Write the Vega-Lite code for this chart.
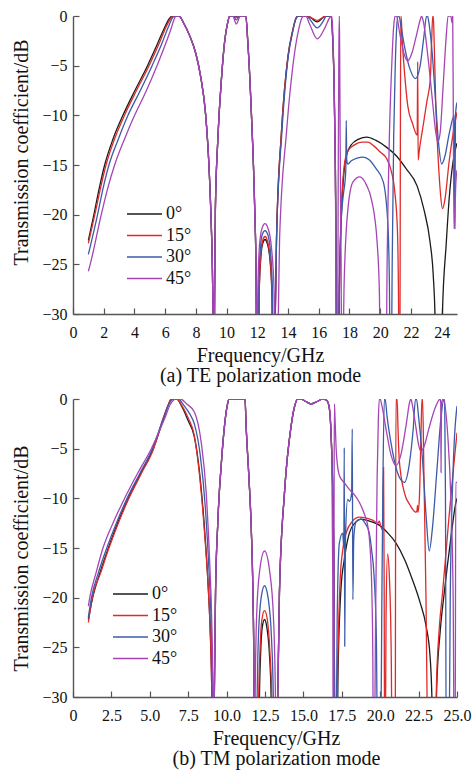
{
"$schema": "https://vega.github.io/schema/vega-lite/v6.json",
"background": "white",
"padding": {"left": 11, "top": 8, "right": 10, "bottom": 5},
"bounds": "flush",
"spacing": 85,
"config": {
  "view": {"stroke": null},
  "font": "Liberation Serif, DejaVu Serif, Times New Roman, serif",
  "axis": {"grid": false, "domainColor": "#555555", "domainWidth": 1.4, "tickColor": "#555555", "tickWidth": 1.2, "tickSize": -6,
    "labelFont": "Liberation Serif, DejaVu Serif, Times New Roman, serif", "labelFontSize": 16, "labelColor": "#111111", "labelFlush": false, "labelOverlap": false,
    "titleFont": "Liberation Serif, DejaVu Serif, Times New Roman, serif", "titleFontSize": 20, "titleFontWeight": "normal", "titleColor": "#111111"},
  "axisX": {"labelPadding": 16, "titlePadding": 5, "titleLineHeight": 20},
  "axisY": {"labelPadding": 12, "titlePadding": 10},
  "legend": {"orient": "none", "title": null, "labelFont": "Liberation Serif, DejaVu Serif, Times New Roman, serif", "labelFontSize": 18, "labelColor": "#111111",
    "symbolType": "M-14,0H0", "symbolSize": 25, "symbolStrokeWidth": 1.3, "labelOffset": -5, "rowPadding": 3.5, "padding": 0}
},
"resolve": {"legend": {"color": "independent"}},
"datasets": {
"te": [
{"a":"0°","f":1,"t":-22.6},{"a":"0°","f":1.36,"t":-20},{"a":"0°","f":1.7,"t":-17.4},{"a":"0°","f":2.06,"t":-15},{"a":"0°","f":2.6,"t":-12.4},{"a":"0°","f":3.25,"t":-10},{"a":"0°","f":4,"t":-7.6},{"a":"0°","f":4.85,"t":-5},{"a":"0°","f":5.5,"t":-2.8},{"a":"0°","f":5.95,"t":-1.2},{"a":"0°","f":6.3,"t":-0.2},{"a":"0°","f":6.45,"t":0},
{"a":"0°","f":6.9,"t":0},{"a":"0°","f":7.2,"t":-0.7},{"a":"0°","f":7.6,"t":-2},{"a":"0°","f":8,"t":-3.8},{"a":"0°","f":8.3,"t":-6},{"a":"0°","f":8.64,"t":-10},{"a":"0°","f":8.85,"t":-15},{"a":"0°","f":8.98,"t":-20},{"a":"0°","f":9.07,"t":-25},{"a":"0°","f":9.12,"t":-30},{"a":"0°","f":9.16,"t":-36},{"a":"0°","f":9.19,"t":-36},{"a":"0°","f":9.22,"t":-28},{"a":"0°","f":9.27,"t":-19.4},{"a":"0°","f":9.42,"t":-12.7},{"a":"0°","f":9.68,"t":-6},{"a":"0°","f":9.87,"t":-2.6},{"a":"0°","f":10.08,"t":-0.6},{"a":"0°","f":10.2,"t":0},
{"a":"0°","f":11.25,"t":0},{"a":"0°","f":11.38,"t":-2.6},{"a":"0°","f":11.6,"t":-9.3},{"a":"0°","f":11.83,"t":-19.4},{"a":"0°","f":11.92,"t":-26},{"a":"0°","f":11.96,"t":-36},
{"a":"0°","f":12.08,"t":-36},{"a":"0°","f":12.12,"t":-28},{"a":"0°","f":12.22,"t":-24.5},{"a":"0°","f":12.35,"t":-22.9},{"a":"0°","f":12.5,"t":-22.5},{"a":"0°","f":12.65,"t":-22.9},{"a":"0°","f":12.82,"t":-24.5},{"a":"0°","f":12.95,"t":-28},{"a":"0°","f":13,"t":-36},{"a":"0°","f":13.12,"t":-36},{"a":"0°","f":13.17,"t":-30},{"a":"0°","f":13.25,"t":-22.4},{"a":"0°","f":13.57,"t":-11.7},{"a":"0°","f":14,"t":-4},{"a":"0°","f":14.3,"t":-1.5},{"a":"0°","f":14.5,"t":-0.3},{"a":"0°","f":14.65,"t":0},{"a":"0°","f":15.25,"t":0},{"a":"0°","f":15.5,"t":-0.2},{"a":"0°","f":15.9,"t":-0.6},{"a":"0°","f":16.25,"t":-0.2},{"a":"0°","f":16.45,"t":0},{"a":"0°","f":16.8,"t":0},{"a":"0°","f":16.9,"t":-2},{"a":"0°","f":17,"t":-7},{"a":"0°","f":17.08,"t":-15},{"a":"0°","f":17.13,"t":-24},{"a":"0°","f":17.17,"t":-36},{"a":"0°","f":17.28,"t":-36},{"a":"0°","f":17.34,"t":-28},{"a":"0°","f":17.45,"t":-21},{"a":"0°","f":17.6,"t":-16.5},{"a":"0°","f":17.8,"t":-14.1},{"a":"0°","f":18.1,"t":-13},{"a":"0°","f":18.6,"t":-12.4},{"a":"0°","f":19.13,"t":-12.2},{"a":"0°","f":19.7,"t":-12.5},{"a":"0°","f":20.4,"t":-13.2},{"a":"0°","f":21.06,"t":-14.1},{"a":"0°","f":21.7,"t":-15.4},{"a":"0°","f":22.4,"t":-17.1},{"a":"0°","f":22.85,"t":-19.5},{"a":"0°","f":23.25,"t":-22.8},{"a":"0°","f":23.45,"t":-26},{"a":"0°","f":23.58,"t":-31},{"a":"0°","f":23.62,"t":-36},{"a":"0°","f":23.98,"t":-36},{"a":"0°","f":24.05,"t":-30},{"a":"0°","f":24.3,"t":-22.9},{"a":"0°","f":24.5,"t":-18.2},{"a":"0°","f":24.74,"t":-14.7},{"a":"0°","f":25,"t":-12.8},

{"a":"15°","f":1,"t":-22.9},{"a":"15°","f":1.42,"t":-20},{"a":"15°","f":1.78,"t":-17.4},{"a":"15°","f":2.15,"t":-15},{"a":"15°","f":2.7,"t":-12.4},{"a":"15°","f":3.35,"t":-10},{"a":"15°","f":4.1,"t":-7.6},{"a":"15°","f":4.95,"t":-5},{"a":"15°","f":5.6,"t":-2.8},{"a":"15°","f":6.03,"t":-1.2},{"a":"15°","f":6.38,"t":-0.2},{"a":"15°","f":6.52,"t":0},
{"a":"15°","f":6.9,"t":0},{"a":"15°","f":7.2,"t":-0.7},{"a":"15°","f":7.6,"t":-2},{"a":"15°","f":8,"t":-3.8},{"a":"15°","f":8.3,"t":-6},{"a":"15°","f":8.64,"t":-10},{"a":"15°","f":8.85,"t":-15},{"a":"15°","f":8.98,"t":-20},{"a":"15°","f":9.07,"t":-25},{"a":"15°","f":9.12,"t":-30},{"a":"15°","f":9.16,"t":-36},{"a":"15°","f":9.19,"t":-36},{"a":"15°","f":9.22,"t":-28},{"a":"15°","f":9.27,"t":-19.4},{"a":"15°","f":9.42,"t":-12.7},{"a":"15°","f":9.68,"t":-6},{"a":"15°","f":9.87,"t":-2.6},{"a":"15°","f":10.08,"t":-0.6},{"a":"15°","f":10.2,"t":0},
{"a":"15°","f":10.5,"t":0},{"a":"15°","f":10.65,"t":-0.15},{"a":"15°","f":10.8,"t":0},
{"a":"15°","f":11.25,"t":0},{"a":"15°","f":11.38,"t":-2.6},{"a":"15°","f":11.6,"t":-9.3},{"a":"15°","f":11.83,"t":-19.4},{"a":"15°","f":11.92,"t":-26},{"a":"15°","f":11.96,"t":-36},
{"a":"15°","f":12.08,"t":-36},{"a":"15°","f":12.12,"t":-28},{"a":"15°","f":12.22,"t":-24.2},{"a":"15°","f":12.35,"t":-22.6},{"a":"15°","f":12.5,"t":-22.2},{"a":"15°","f":12.65,"t":-22.6},{"a":"15°","f":12.82,"t":-24.2},{"a":"15°","f":12.96,"t":-28},{"a":"15°","f":13.01,"t":-36},{"a":"15°","f":13.12,"t":-36},{"a":"15°","f":13.17,"t":-30},{"a":"15°","f":13.25,"t":-22.4},{"a":"15°","f":13.57,"t":-11.7},{"a":"15°","f":14,"t":-4},{"a":"15°","f":14.3,"t":-1.5},{"a":"15°","f":14.5,"t":-0.3},{"a":"15°","f":14.65,"t":0},{"a":"15°","f":15.25,"t":0},{"a":"15°","f":15.5,"t":-0.15},{"a":"15°","f":15.9,"t":-0.45},{"a":"15°","f":16.25,"t":-0.15},{"a":"15°","f":16.45,"t":0},{"a":"15°","f":16.8,"t":0},{"a":"15°","f":16.9,"t":-2},{"a":"15°","f":17,"t":-7},{"a":"15°","f":17.08,"t":-15},{"a":"15°","f":17.13,"t":-24},{"a":"15°","f":17.17,"t":-36},{"a":"15°","f":17.28,"t":-36},{"a":"15°","f":17.34,"t":-28},{"a":"15°","f":17.45,"t":-20},{"a":"15°","f":17.55,"t":-17},{"a":"15°","f":17.7,"t":-14.6},{"a":"15°","f":17.9,"t":-13.6},{"a":"15°","f":18.3,"t":-13},{"a":"15°","f":18.8,"t":-12.7},{"a":"15°","f":19.2,"t":-12.7},{"a":"15°","f":19.6,"t":-13.1},{"a":"15°","f":20,"t":-13.7},{"a":"15°","f":20.4,"t":-14.3},{"a":"15°","f":20.7,"t":-15.5},{"a":"15°","f":20.95,"t":-17.7},{"a":"15°","f":21.12,"t":-21.5},{"a":"15°","f":21.19,"t":-28},{"a":"15°","f":21.22,"t":-36},{"a":"15°","f":21.28,"t":-36},{"a":"15°","f":21.31,"t":-15},{"a":"15°","f":21.34,"t":0},{"a":"15°","f":21.36,"t":0},{"a":"15°","f":21.42,"t":-2},{"a":"15°","f":21.6,"t":-6},{"a":"15°","f":21.8,"t":-9.1},{"a":"15°","f":22.1,"t":-10.8},{"a":"15°","f":22.41,"t":-12},{"a":"15°","f":22.44,"t":-4.6},{"a":"15°","f":22.47,"t":-14.5},{"a":"15°","f":22.55,"t":-13.5},{"a":"15°","f":22.8,"t":-11},{"a":"15°","f":23.05,"t":-8.5},{"a":"15°","f":23.26,"t":-6.4},{"a":"15°","f":23.35,"t":-2.5},{"a":"15°","f":23.42,"t":0},{"a":"15°","f":23.46,"t":0},{"a":"15°","f":23.52,"t":-3},{"a":"15°","f":23.62,"t":-9},{"a":"15°","f":23.78,"t":-14.5},{"a":"15°","f":23.92,"t":-17.8},{"a":"15°","f":24.05,"t":-19.4},{"a":"15°","f":24.2,"t":-18.6},{"a":"15°","f":24.5,"t":-14.5},{"a":"15°","f":24.75,"t":-11.8},{"a":"15°","f":25,"t":-9.7},

{"a":"30°","f":1,"t":-24},{"a":"30°","f":1.6,"t":-20},{"a":"30°","f":1.95,"t":-17.4},{"a":"30°","f":2.34,"t":-15},{"a":"30°","f":2.95,"t":-12.4},{"a":"30°","f":3.58,"t":-10},{"a":"30°","f":4.35,"t":-7.6},{"a":"30°","f":5.15,"t":-5},{"a":"30°","f":5.78,"t":-2.8},{"a":"30°","f":6.18,"t":-1.2},{"a":"30°","f":6.48,"t":-0.2},{"a":"30°","f":6.6,"t":0},
{"a":"30°","f":6.9,"t":0},{"a":"30°","f":7.2,"t":-0.7},{"a":"30°","f":7.6,"t":-2},{"a":"30°","f":8,"t":-3.8},{"a":"30°","f":8.3,"t":-6},{"a":"30°","f":8.64,"t":-10},{"a":"30°","f":8.85,"t":-15},{"a":"30°","f":8.98,"t":-20},{"a":"30°","f":9.07,"t":-25},{"a":"30°","f":9.12,"t":-30},{"a":"30°","f":9.16,"t":-36},{"a":"30°","f":9.19,"t":-36},{"a":"30°","f":9.22,"t":-28},{"a":"30°","f":9.27,"t":-19.4},{"a":"30°","f":9.42,"t":-12.7},{"a":"30°","f":9.68,"t":-6},{"a":"30°","f":9.87,"t":-2.6},{"a":"30°","f":10.08,"t":-0.6},{"a":"30°","f":10.2,"t":0},
{"a":"30°","f":10.45,"t":0},{"a":"30°","f":10.63,"t":-0.4},{"a":"30°","f":10.85,"t":0},
{"a":"30°","f":11.25,"t":0},{"a":"30°","f":11.38,"t":-2.6},{"a":"30°","f":11.6,"t":-9.3},{"a":"30°","f":11.83,"t":-19.4},{"a":"30°","f":11.92,"t":-26},{"a":"30°","f":11.96,"t":-36},
{"a":"30°","f":12.03,"t":-36},{"a":"30°","f":12.08,"t":-28},{"a":"30°","f":12.18,"t":-23.8},{"a":"30°","f":12.32,"t":-22},{"a":"30°","f":12.5,"t":-21.6},{"a":"30°","f":12.68,"t":-22},{"a":"30°","f":12.86,"t":-23.8},{"a":"30°","f":12.99,"t":-28},{"a":"30°","f":13.05,"t":-36},{"a":"30°","f":13.12,"t":-36},{"a":"30°","f":13.17,"t":-30},{"a":"30°","f":13.25,"t":-22.4},{"a":"30°","f":13.6,"t":-11.7},{"a":"30°","f":14.02,"t":-4},{"a":"30°","f":14.3,"t":-1.6},{"a":"30°","f":14.5,"t":-0.3},{"a":"30°","f":14.65,"t":0},{"a":"30°","f":15.2,"t":0},{"a":"30°","f":15.5,"t":-0.5},{"a":"30°","f":15.9,"t":-1.2},{"a":"30°","f":16.3,"t":-0.5},{"a":"30°","f":16.5,"t":0},{"a":"30°","f":16.8,"t":0},{"a":"30°","f":16.9,"t":-2},{"a":"30°","f":17,"t":-7},{"a":"30°","f":17.08,"t":-15},{"a":"30°","f":17.13,"t":-24},{"a":"30°","f":17.17,"t":-36},{"a":"30°","f":17.25,"t":-36},{"a":"30°","f":17.32,"t":-28},{"a":"30°","f":17.45,"t":-21},{"a":"30°","f":17.6,"t":-18},{"a":"30°","f":17.7,"t":-16.8},{"a":"30°","f":17.76,"t":-15.5},{"a":"30°","f":17.79,"t":-10.5},{"a":"30°","f":17.82,"t":-14.5},{"a":"30°","f":17.9,"t":-14.9},{"a":"30°","f":18.1,"t":-14.6},{"a":"30°","f":18.5,"t":-14.3},{"a":"30°","f":18.9,"t":-14.2},{"a":"30°","f":19.3,"t":-14.5},{"a":"30°","f":19.7,"t":-15.3},{"a":"30°","f":20.2,"t":-16.7},{"a":"30°","f":20.5,"t":-21},{"a":"30°","f":20.6,"t":-27},{"a":"30°","f":20.64,"t":-36},{"a":"30°","f":20.72,"t":-36},{"a":"30°","f":20.78,"t":-25},{"a":"30°","f":20.88,"t":-12},{"a":"30°","f":20.98,"t":-5},{"a":"30°","f":21.08,"t":-1},{"a":"30°","f":21.15,"t":0},{"a":"30°","f":21.22,"t":0},{"a":"30°","f":21.35,"t":-1},{"a":"30°","f":21.6,"t":-3.2},{"a":"30°","f":21.95,"t":-5.4},{"a":"30°","f":22.3,"t":-6.3},{"a":"30°","f":22.6,"t":-5},{"a":"30°","f":22.85,"t":-2},{"a":"30°","f":23.02,"t":0},{"a":"30°","f":23.08,"t":0},{"a":"30°","f":23.2,"t":-1},{"a":"30°","f":23.4,"t":-4},{"a":"30°","f":23.6,"t":-8.5},{"a":"30°","f":23.8,"t":-12.8},{"a":"30°","f":24,"t":-14.9},{"a":"30°","f":24.2,"t":-14.2},{"a":"30°","f":24.5,"t":-11.8},{"a":"30°","f":24.82,"t":-10},{"a":"30°","f":24.86,"t":-21.4},{"a":"30°","f":24.9,"t":-10},{"a":"30°","f":25,"t":-8.7},

{"a":"45°","f":1,"t":-25.7},{"a":"45°","f":1.12,"t":-25},{"a":"45°","f":1.84,"t":-20},{"a":"45°","f":2.25,"t":-17.4},{"a":"45°","f":2.71,"t":-15},{"a":"45°","f":3.35,"t":-12.4},{"a":"45°","f":4.01,"t":-10},{"a":"45°","f":4.75,"t":-7.6},{"a":"45°","f":5.47,"t":-5},{"a":"45°","f":6.03,"t":-2.8},{"a":"45°","f":6.4,"t":-1.2},{"a":"45°","f":6.62,"t":-0.2},{"a":"45°","f":6.72,"t":0},
{"a":"45°","f":6.9,"t":0},{"a":"45°","f":7.2,"t":-0.7},{"a":"45°","f":7.6,"t":-2},{"a":"45°","f":8,"t":-3.8},{"a":"45°","f":8.3,"t":-6},{"a":"45°","f":8.64,"t":-10},{"a":"45°","f":8.85,"t":-15},{"a":"45°","f":8.98,"t":-20},{"a":"45°","f":9.07,"t":-25},{"a":"45°","f":9.12,"t":-30},{"a":"45°","f":9.16,"t":-36},{"a":"45°","f":9.19,"t":-36},{"a":"45°","f":9.22,"t":-28},{"a":"45°","f":9.27,"t":-19.4},{"a":"45°","f":9.42,"t":-12.7},{"a":"45°","f":9.68,"t":-6},{"a":"45°","f":9.87,"t":-2.6},{"a":"45°","f":10.08,"t":-0.6},{"a":"45°","f":10.2,"t":0},
{"a":"45°","f":10.4,"t":0},{"a":"45°","f":10.63,"t":-0.8},{"a":"45°","f":10.9,"t":0},
{"a":"45°","f":11.25,"t":0},{"a":"45°","f":11.38,"t":-2.6},{"a":"45°","f":11.6,"t":-9.3},{"a":"45°","f":11.83,"t":-19.4},{"a":"45°","f":11.92,"t":-26},{"a":"45°","f":11.96,"t":-36},
{"a":"45°","f":11.98,"t":-36},{"a":"45°","f":12.03,"t":-28},{"a":"45°","f":12.13,"t":-23.3},{"a":"45°","f":12.3,"t":-21.4},{"a":"45°","f":12.5,"t":-20.9},{"a":"45°","f":12.7,"t":-21.4},{"a":"45°","f":12.92,"t":-23.3},{"a":"45°","f":13.1,"t":-28},{"a":"45°","f":13.2,"t":-36},{"a":"45°","f":13.3,"t":-36},{"a":"45°","f":13.37,"t":-30},{"a":"45°","f":13.45,"t":-22.4},{"a":"45°","f":13.9,"t":-11.7},{"a":"45°","f":14.4,"t":-4},{"a":"45°","f":14.7,"t":-1.3},{"a":"45°","f":14.9,"t":-0.2},{"a":"45°","f":15,"t":0},{"a":"45°","f":15.15,"t":0},{"a":"45°","f":15.4,"t":-0.8},{"a":"45°","f":15.9,"t":-2.3},{"a":"45°","f":16.4,"t":-1.2},{"a":"45°","f":16.7,"t":-0.2},{"a":"45°","f":16.85,"t":0},{"a":"45°","f":16.92,"t":-2},{"a":"45°","f":17.02,"t":-9},{"a":"45°","f":17.1,"t":-20},{"a":"45°","f":17.15,"t":-36},{"a":"45°","f":17.22,"t":-36},{"a":"45°","f":17.27,"t":-15},{"a":"45°","f":17.31,"t":-3},{"a":"45°","f":17.34,"t":0},{"a":"45°","f":17.36,"t":-3},{"a":"45°","f":17.39,"t":-11.7},{"a":"45°","f":17.45,"t":-24},{"a":"45°","f":17.5,"t":-36},{"a":"45°","f":17.56,"t":-36},{"a":"45°","f":17.65,"t":-27},{"a":"45°","f":17.9,"t":-19.4},{"a":"45°","f":18.23,"t":-16.7},{"a":"45°","f":18.67,"t":-16.2},{"a":"45°","f":19.1,"t":-17},{"a":"45°","f":19.45,"t":-18.6},{"a":"45°","f":19.8,"t":-22.8},{"a":"45°","f":19.95,"t":-28},{"a":"45°","f":20,"t":-36},{"a":"45°","f":20.38,"t":-36},{"a":"45°","f":20.45,"t":-25},{"a":"45°","f":20.6,"t":-12},{"a":"45°","f":20.75,"t":-5},{"a":"45°","f":20.88,"t":-1},{"a":"45°","f":20.97,"t":0},{"a":"45°","f":21.05,"t":0},{"a":"45°","f":21.3,"t":-2},{"a":"45°","f":21.55,"t":-3.8},{"a":"45°","f":21.8,"t":-4.5},{"a":"45°","f":22.05,"t":-3.8},{"a":"45°","f":22.35,"t":-2},{"a":"45°","f":22.6,"t":-0.4},{"a":"45°","f":22.7,"t":0},{"a":"45°","f":22.8,"t":-0.5},{"a":"45°","f":23.1,"t":-4},{"a":"45°","f":23.4,"t":-8.5},{"a":"45°","f":23.6,"t":-11.5},{"a":"45°","f":23.75,"t":-12.7},{"a":"45°","f":23.9,"t":-11.8},{"a":"45°","f":24.1,"t":-7},{"a":"45°","f":24.3,"t":-2},{"a":"45°","f":24.42,"t":0},{"a":"45°","f":24.6,"t":0},{"a":"45°","f":24.68,"t":-0.7},{"a":"45°","f":24.72,"t":0},{"a":"45°","f":24.76,"t":-10},{"a":"45°","f":24.8,"t":-21.4},{"a":"45°","f":24.84,"t":-21},{"a":"45°","f":24.92,"t":-17},{"a":"45°","f":25,"t":-15.5}
],
"tm": [
{"a":"0°","f":1,"t":-22.2},{"a":"0°","f":1.28,"t":-20},{"a":"0°","f":1.75,"t":-17.5},{"a":"0°","f":2.3,"t":-15},{"a":"0°","f":2.9,"t":-12.5},{"a":"0°","f":3.6,"t":-10},{"a":"0°","f":4.4,"t":-7.5},{"a":"0°","f":5.22,"t":-5},{"a":"0°","f":5.85,"t":-2.2},{"a":"0°","f":6.2,"t":-0.6},{"a":"0°","f":6.4,"t":0},{"a":"0°","f":6.75,"t":0},{"a":"0°","f":7.1,"t":-0.8},{"a":"0°","f":7.5,"t":-2.2},{"a":"0°","f":7.9,"t":-3.8},{"a":"0°","f":8.24,"t":-7.4},{"a":"0°","f":8.56,"t":-13},{"a":"0°","f":8.82,"t":-19.4},{"a":"0°","f":8.95,"t":-24},{"a":"0°","f":9.04,"t":-30},{"a":"0°","f":9.08,"t":-36},{"a":"0°","f":9.16,"t":-36},
{"a":"0°","f":9.2,"t":-30},{"a":"0°","f":9.28,"t":-19.4},{"a":"0°","f":9.42,"t":-12.7},{"a":"0°","f":9.68,"t":-6},{"a":"0°","f":9.87,"t":-2.6},{"a":"0°","f":10.05,"t":-0.6},{"a":"0°","f":10.15,"t":0},{"a":"0°","f":11.2,"t":0},{"a":"0°","f":11.27,"t":-2.7},{"a":"0°","f":11.45,"t":-7.8},{"a":"0°","f":11.6,"t":-12.8},{"a":"0°","f":11.72,"t":-20},{"a":"0°","f":11.77,"t":-26},{"a":"0°","f":11.8,"t":-36},
{"a":"0°","f":12.1,"t":-36},{"a":"0°","f":12.14,"t":-30},{"a":"0°","f":12.22,"t":-25.5},{"a":"0°","f":12.32,"t":-23},{"a":"0°","f":12.47,"t":-22.2},{"a":"0°","f":12.62,"t":-23},{"a":"0°","f":12.78,"t":-25.5},{"a":"0°","f":12.9,"t":-30},{"a":"0°","f":12.94,"t":-36},
{"a":"0°","f":13.28,"t":-36},{"a":"0°","f":13.33,"t":-30},{"a":"0°","f":13.44,"t":-19.5},{"a":"0°","f":13.77,"t":-9.4},{"a":"0°","f":14.2,"t":-2.7},{"a":"0°","f":14.45,"t":-0.6},{"a":"0°","f":14.62,"t":0},{"a":"0°","f":14.85,"t":0},{"a":"0°","f":15.15,"t":-0.25},{"a":"0°","f":15.5,"t":-0.5},{"a":"0°","f":15.9,"t":-0.25},{"a":"0°","f":16.25,"t":0},{"a":"0°","f":16.5,"t":-0.1},
{"a":"0°","f":16.65,"t":-0.6},{"a":"0°","f":16.8,"t":-3.5},{"a":"0°","f":16.92,"t":-10},{"a":"0°","f":17,"t":-20},{"a":"0°","f":17.05,"t":-36},{"a":"0°","f":17.2,"t":-36},{"a":"0°","f":17.25,"t":-28},{"a":"0°","f":17.45,"t":-19},{"a":"0°","f":17.67,"t":-16.1},{"a":"0°","f":17.99,"t":-13.5},{"a":"0°","f":18.4,"t":-12.4},{"a":"0°","f":18.75,"t":-12.1},{"a":"0°","f":19.3,"t":-12.3},{"a":"0°","f":19.94,"t":-12.7},{"a":"0°","f":20.5,"t":-13.5},{"a":"0°","f":21.03,"t":-14.5},{"a":"0°","f":21.6,"t":-16.2},{"a":"0°","f":22.1,"t":-18.2},{"a":"0°","f":22.6,"t":-20.5},{"a":"0°","f":22.98,"t":-22.8},{"a":"0°","f":23.25,"t":-26},{"a":"0°","f":23.38,"t":-31},{"a":"0°","f":23.42,"t":-36},{"a":"0°","f":23.58,"t":-36},{"a":"0°","f":23.68,"t":-29},{"a":"0°","f":23.9,"t":-23.5},{"a":"0°","f":24.17,"t":-19.5},{"a":"0°","f":24.6,"t":-14},{"a":"0°","f":24.93,"t":-10.4},{"a":"0°","f":25,"t":-10},

{"a":"15°","f":1,"t":-22.5},{"a":"15°","f":1.26,"t":-20},{"a":"15°","f":1.8,"t":-17.5},{"a":"15°","f":2.34,"t":-15},{"a":"15°","f":2.95,"t":-12.5},{"a":"15°","f":3.64,"t":-10},{"a":"15°","f":4.45,"t":-7.5},{"a":"15°","f":5.25,"t":-5},{"a":"15°","f":5.85,"t":-2},{"a":"15°","f":6.2,"t":-0.6},{"a":"15°","f":6.4,"t":0},{"a":"15°","f":6.75,"t":0},{"a":"15°","f":7.1,"t":-0.7},{"a":"15°","f":7.5,"t":-1.9},{"a":"15°","f":7.9,"t":-3.7},{"a":"15°","f":8.24,"t":-7.7},{"a":"15°","f":8.56,"t":-13.4},{"a":"15°","f":8.82,"t":-19.4},{"a":"15°","f":8.95,"t":-24},{"a":"15°","f":9.04,"t":-30},{"a":"15°","f":9.08,"t":-36},{"a":"15°","f":9.16,"t":-36},
{"a":"15°","f":9.2,"t":-30},{"a":"15°","f":9.28,"t":-19.4},{"a":"15°","f":9.42,"t":-12.7},{"a":"15°","f":9.68,"t":-6},{"a":"15°","f":9.87,"t":-2.6},{"a":"15°","f":10.05,"t":-0.6},{"a":"15°","f":10.15,"t":0},{"a":"15°","f":11.2,"t":0},{"a":"15°","f":11.27,"t":-2.7},{"a":"15°","f":11.45,"t":-7.8},{"a":"15°","f":11.6,"t":-12.8},{"a":"15°","f":11.72,"t":-20},{"a":"15°","f":11.77,"t":-26},{"a":"15°","f":11.8,"t":-36},
{"a":"15°","f":12.05,"t":-36},{"a":"15°","f":12.09,"t":-30},{"a":"15°","f":12.17,"t":-25.5},{"a":"15°","f":12.3,"t":-22.2},{"a":"15°","f":12.47,"t":-21.3},{"a":"15°","f":12.65,"t":-22.2},{"a":"15°","f":12.82,"t":-25.5},{"a":"15°","f":12.94,"t":-30},{"a":"15°","f":12.98,"t":-36},
{"a":"15°","f":13.28,"t":-36},{"a":"15°","f":13.33,"t":-30},{"a":"15°","f":13.44,"t":-19.5},{"a":"15°","f":13.77,"t":-9.4},{"a":"15°","f":14.2,"t":-2.7},{"a":"15°","f":14.45,"t":-0.6},{"a":"15°","f":14.62,"t":0},{"a":"15°","f":14.85,"t":0},{"a":"15°","f":15.15,"t":-0.25},{"a":"15°","f":15.5,"t":-0.5},{"a":"15°","f":15.9,"t":-0.25},{"a":"15°","f":16.25,"t":0},{"a":"15°","f":16.5,"t":-0.1},
{"a":"15°","f":16.65,"t":-0.6},{"a":"15°","f":16.8,"t":-3.5},{"a":"15°","f":16.92,"t":-10},{"a":"15°","f":17,"t":-20},{"a":"15°","f":17.05,"t":-36},{"a":"15°","f":17.15,"t":-36},{"a":"15°","f":17.22,"t":-28},{"a":"15°","f":17.4,"t":-18},{"a":"15°","f":17.55,"t":-15.3},{"a":"15°","f":17.78,"t":-13.5},{"a":"15°","f":18.2,"t":-12.3},{"a":"15°","f":18.64,"t":-11.9},{"a":"15°","f":19.1,"t":-12},{"a":"15°","f":19.5,"t":-12.2},{"a":"15°","f":19.85,"t":-12.5},{"a":"15°","f":19.94,"t":-12.3},{"a":"15°","f":20.05,"t":-12.9},{"a":"15°","f":20.16,"t":-13.2},{"a":"15°","f":20.22,"t":-6.9},{"a":"15°","f":20.26,"t":-20},{"a":"15°","f":20.29,"t":-36},{"a":"15°","f":20.33,"t":-36},{"a":"15°","f":20.38,"t":-22},{"a":"15°","f":20.48,"t":-15.6},{"a":"15°","f":20.6,"t":-18},{"a":"15°","f":20.72,"t":-26},{"a":"15°","f":20.78,"t":-36},{"a":"15°","f":20.98,"t":-36},{"a":"15°","f":21,"t":-15},{"a":"15°","f":21.03,"t":0},{"a":"15°","f":21.1,"t":0},{"a":"15°","f":21.16,"t":-3},{"a":"15°","f":21.24,"t":-6.1},{"a":"15°","f":21.57,"t":-9.4},{"a":"15°","f":21.95,"t":-10.7},{"a":"15°","f":22.33,"t":-11.4},{"a":"15°","f":22.4,"t":-11.2},{"a":"15°","f":22.43,"t":-10.7},{"a":"15°","f":22.46,"t":-11.4},{"a":"15°","f":22.55,"t":-10},{"a":"15°","f":22.65,"t":-4},{"a":"15°","f":22.72,"t":0},{"a":"15°","f":22.76,"t":0},{"a":"15°","f":22.85,"t":-8},{"a":"15°","f":22.98,"t":-20},{"a":"15°","f":23.05,"t":-30},{"a":"15°","f":23.08,"t":-36},{"a":"15°","f":23.58,"t":-36},{"a":"15°","f":23.66,"t":-29},{"a":"15°","f":23.85,"t":-23},{"a":"15°","f":24.06,"t":-19.5},{"a":"15°","f":24.5,"t":-11.5},{"a":"15°","f":24.8,"t":-6.5},{"a":"15°","f":25,"t":-3.4},

{"a":"30°","f":1,"t":-22},{"a":"30°","f":1.2,"t":-20},{"a":"30°","f":1.65,"t":-17.5},{"a":"30°","f":2.2,"t":-15},{"a":"30°","f":2.82,"t":-12.5},{"a":"30°","f":3.52,"t":-10},{"a":"30°","f":4.35,"t":-7.5},{"a":"30°","f":5.17,"t":-5},{"a":"30°","f":5.85,"t":-2.1},{"a":"30°","f":6.25,"t":-0.5},{"a":"30°","f":6.52,"t":0},{"a":"30°","f":6.85,"t":0},{"a":"30°","f":7.2,"t":-0.6},{"a":"30°","f":7.6,"t":-1.5},{"a":"30°","f":7.9,"t":-2.5},{"a":"30°","f":8.28,"t":-5.6},{"a":"30°","f":8.62,"t":-11},{"a":"30°","f":8.86,"t":-17.5},{"a":"30°","f":9,"t":-23},{"a":"30°","f":9.08,"t":-30},{"a":"30°","f":9.12,"t":-36},{"a":"30°","f":9.17,"t":-36},
{"a":"30°","f":9.2,"t":-30},{"a":"30°","f":9.28,"t":-19.4},{"a":"30°","f":9.42,"t":-12.7},{"a":"30°","f":9.68,"t":-6},{"a":"30°","f":9.87,"t":-2.6},{"a":"30°","f":10.05,"t":-0.6},{"a":"30°","f":10.15,"t":0},{"a":"30°","f":11.2,"t":0},{"a":"30°","f":11.27,"t":-2.7},{"a":"30°","f":11.45,"t":-7.8},{"a":"30°","f":11.6,"t":-12.8},{"a":"30°","f":11.72,"t":-20},{"a":"30°","f":11.77,"t":-26},{"a":"30°","f":11.8,"t":-36},
{"a":"30°","f":11.95,"t":-36},{"a":"30°","f":11.99,"t":-30},{"a":"30°","f":12.07,"t":-24},{"a":"30°","f":12.25,"t":-20},{"a":"30°","f":12.47,"t":-18.8},{"a":"30°","f":12.7,"t":-20},{"a":"30°","f":12.92,"t":-24},{"a":"30°","f":13.04,"t":-30},{"a":"30°","f":13.08,"t":-36},
{"a":"30°","f":13.28,"t":-36},{"a":"30°","f":13.33,"t":-30},{"a":"30°","f":13.44,"t":-19.5},{"a":"30°","f":13.77,"t":-9.4},{"a":"30°","f":14.2,"t":-2.7},{"a":"30°","f":14.45,"t":-0.6},{"a":"30°","f":14.62,"t":0},{"a":"30°","f":14.85,"t":0},{"a":"30°","f":15.15,"t":-0.25},{"a":"30°","f":15.5,"t":-0.5},{"a":"30°","f":15.9,"t":-0.25},{"a":"30°","f":16.25,"t":0},{"a":"30°","f":16.5,"t":-0.1},
{"a":"30°","f":16.65,"t":-0.6},{"a":"30°","f":16.8,"t":-3.5},{"a":"30°","f":16.92,"t":-10},{"a":"30°","f":17,"t":-20},{"a":"30°","f":17.04,"t":-36},{"a":"30°","f":17.12,"t":-36},{"a":"30°","f":17.2,"t":-22},{"a":"30°","f":17.34,"t":-14.5},{"a":"30°","f":17.56,"t":-13.5},{"a":"30°","f":17.63,"t":-15},{"a":"30°","f":17.66,"t":-4.9},{"a":"30°","f":17.69,"t":-24.9},{"a":"30°","f":17.74,"t":-14},{"a":"30°","f":17.88,"t":-10.1},{"a":"30°","f":18,"t":-10.3},{"a":"30°","f":18.14,"t":-9.5},{"a":"30°","f":18.18,"t":-3},{"a":"30°","f":18.22,"t":-20.2},{"a":"30°","f":18.28,"t":-14},{"a":"30°","f":18.42,"t":-12.4},{"a":"30°","f":18.75,"t":-12.1},{"a":"30°","f":19.05,"t":-12.6},{"a":"30°","f":19.29,"t":-13.5},{"a":"30°","f":19.45,"t":-15.3},{"a":"30°","f":19.6,"t":-17.8},{"a":"30°","f":19.75,"t":-24},{"a":"30°","f":19.83,"t":-36},{"a":"30°","f":20.03,"t":-36},{"a":"30°","f":20.1,"t":-22},{"a":"30°","f":20.18,"t":-8},{"a":"30°","f":20.27,"t":0},{"a":"30°","f":20.32,"t":0},{"a":"30°","f":20.45,"t":-1.8},{"a":"30°","f":20.7,"t":-4.4},{"a":"30°","f":21.1,"t":-7.3},{"a":"30°","f":21.57,"t":-8.4},{"a":"30°","f":21.9,"t":-6.5},{"a":"30°","f":22.15,"t":-3},{"a":"30°","f":22.3,"t":0},{"a":"30°","f":22.36,"t":0},{"a":"30°","f":22.5,"t":-1.8},{"a":"30°","f":22.75,"t":-6},{"a":"30°","f":23,"t":-12},{"a":"30°","f":23.19,"t":-15.3},{"a":"30°","f":23.4,"t":-13},{"a":"30°","f":23.7,"t":-7},{"a":"30°","f":23.95,"t":-2},{"a":"30°","f":24.15,"t":0},{"a":"30°","f":24.2,"t":-0.5},{"a":"30°","f":24.25,"t":-10},{"a":"30°","f":24.3,"t":-36},{"a":"30°","f":24.48,"t":-36},{"a":"30°","f":24.56,"t":-20},{"a":"30°","f":24.75,"t":-7},{"a":"30°","f":25,"t":-0.7},

{"a":"45°","f":1,"t":-20.85},{"a":"45°","f":1.09,"t":-20},{"a":"45°","f":1.5,"t":-17.5},{"a":"45°","f":1.95,"t":-15},{"a":"45°","f":2.6,"t":-12.5},{"a":"45°","f":3.36,"t":-10},{"a":"45°","f":4.2,"t":-7.5},{"a":"45°","f":5.1,"t":-5},{"a":"45°","f":5.96,"t":-2},{"a":"45°","f":6.35,"t":-0.5},{"a":"45°","f":6.68,"t":0},{"a":"45°","f":7,"t":0},{"a":"45°","f":7.4,"t":-0.5},{"a":"45°","f":7.9,"t":-1.3},{"a":"45°","f":8.35,"t":-4.4},{"a":"45°","f":8.67,"t":-9.4},{"a":"45°","f":8.89,"t":-16.1},{"a":"45°","f":9.04,"t":-22.8},{"a":"45°","f":9.12,"t":-30},{"a":"45°","f":9.15,"t":-36},{"a":"45°","f":9.17,"t":-36},
{"a":"45°","f":9.2,"t":-30},{"a":"45°","f":9.28,"t":-19.4},{"a":"45°","f":9.42,"t":-12.7},{"a":"45°","f":9.68,"t":-6},{"a":"45°","f":9.87,"t":-2.6},{"a":"45°","f":10.05,"t":-0.6},{"a":"45°","f":10.15,"t":0},{"a":"45°","f":11.2,"t":0},{"a":"45°","f":11.27,"t":-2.7},{"a":"45°","f":11.45,"t":-7.8},{"a":"45°","f":11.6,"t":-12.8},{"a":"45°","f":11.72,"t":-20},{"a":"45°","f":11.77,"t":-26},{"a":"45°","f":11.8,"t":-36},
{"a":"45°","f":11.83,"t":-36},{"a":"45°","f":11.86,"t":-30},{"a":"45°","f":11.95,"t":-22},{"a":"45°","f":12.15,"t":-17.3},{"a":"45°","f":12.47,"t":-15.3},{"a":"45°","f":12.8,"t":-17.3},{"a":"45°","f":13.05,"t":-22},{"a":"45°","f":13.18,"t":-30},{"a":"45°","f":13.22,"t":-36},
{"a":"45°","f":13.28,"t":-36},{"a":"45°","f":13.33,"t":-30},{"a":"45°","f":13.44,"t":-19.5},{"a":"45°","f":13.77,"t":-9.4},{"a":"45°","f":14.2,"t":-2.7},{"a":"45°","f":14.45,"t":-0.6},{"a":"45°","f":14.62,"t":0},{"a":"45°","f":14.85,"t":0},{"a":"45°","f":15.15,"t":-0.25},{"a":"45°","f":15.5,"t":-0.5},{"a":"45°","f":15.9,"t":-0.25},{"a":"45°","f":16.25,"t":0},{"a":"45°","f":16.5,"t":-0.1},
{"a":"45°","f":16.7,"t":-1},{"a":"45°","f":16.85,"t":-6},{"a":"45°","f":16.91,"t":-18},{"a":"45°","f":16.94,"t":-36},{"a":"45°","f":16.97,"t":-36},{"a":"45°","f":17,"t":-8},{"a":"45°","f":17.02,"t":-0.5},{"a":"45°","f":17.06,"t":-2},{"a":"45°","f":17.15,"t":-5.5},{"a":"45°","f":17.34,"t":-7.7},{"a":"45°","f":17.7,"t":-8.5},{"a":"45°","f":17.99,"t":-9.1},{"a":"45°","f":18.3,"t":-9.6},{"a":"45°","f":18.64,"t":-10.4},{"a":"45°","f":18.95,"t":-11.5},{"a":"45°","f":19.18,"t":-12.7},{"a":"45°","f":19.32,"t":-14.5},{"a":"45°","f":19.45,"t":-19},{"a":"45°","f":19.52,"t":-26},{"a":"45°","f":19.55,"t":-36},{"a":"45°","f":19.62,"t":-36},{"a":"45°","f":19.7,"t":-22},{"a":"45°","f":19.8,"t":-8},{"a":"45°","f":19.88,"t":-2},{"a":"45°","f":19.94,"t":0},{"a":"45°","f":20,"t":0},{"a":"45°","f":20.1,"t":-0.6},{"a":"45°","f":20.4,"t":-3.2},{"a":"45°","f":20.7,"t":-5.6},{"a":"45°","f":21.03,"t":-6.7},{"a":"45°","f":21.35,"t":-5.6},{"a":"45°","f":21.7,"t":-2.5},{"a":"45°","f":21.92,"t":-0.3},{"a":"45°","f":22,"t":0},{"a":"45°","f":22.08,"t":-0.5},{"a":"45°","f":22.3,"t":-2.6},{"a":"45°","f":22.5,"t":-4.6},{"a":"45°","f":22.65,"t":-5.3},{"a":"45°","f":22.85,"t":-4.8},{"a":"45°","f":23.2,"t":-2.8},{"a":"45°","f":23.6,"t":-0.8},{"a":"45°","f":23.9,"t":0},{"a":"45°","f":23.94,"t":-0.3},{"a":"45°","f":23.96,"t":-7.4},{"a":"45°","f":23.99,"t":-0.5},{"a":"45°","f":24.1,"t":0},{"a":"45°","f":24.4,"t":-3.7},{"a":"45°","f":24.6,"t":-10},{"a":"45°","f":24.75,"t":-20},{"a":"45°","f":24.82,"t":-36},{"a":"45°","f":24.88,"t":-36},{"a":"45°","f":24.92,"t":-8.4},{"a":"45°","f":25,"t":-8.4}
]
},
"vconcat": [
{
  "data": {"name": "te"},
  "width": 384, "height": 298,
  "mark": {"type": "line", "clip": true, "strokeWidth": 1.3, "interpolate": "monotone"},
  "encoding": {
    "x": {"field": "f", "type": "quantitative", "scale": {"domain": [0, 25], "nice": false},
      "axis": {"values": [0,2,4,6,8,10,12,14,16,18,20,22,24], "format": "d", "title": ["Frequency/GHz", "(a) TE polarization mode"], "titleX": 187}},
    "y": {"field": "t", "type": "quantitative", "scale": {"domain": [-30, 0], "nice": false},
      "axis": {"values": [-30,-25,-20,-15,-10,-5,0], "format": "d", "title": "Transmission coefficient/dB", "titleY": 136}},
    "color": {"field": "a", "type": "nominal", "scale": {"domain": ["0°","15°","30°","45°"], "range": ["#1b1b1b","#e02a2a","#3b5ba8","#a545b5"]},
      "legend": {"legendX": 80, "legendY": 189}}
  }
},
{
  "data": {"name": "tm"},
  "width": 384, "height": 298,
  "mark": {"type": "line", "clip": true, "strokeWidth": 1.3, "interpolate": "monotone"},
  "encoding": {
    "x": {"field": "f", "type": "quantitative", "scale": {"domain": [0, 25], "nice": false},
      "axis": {"values": [0,2.5,5,7.5,10,12.5,15,17.5,20,22.5,25], "labelExpr": "datum.value == 0 ? '0' : format(datum.value, '.1f')", "title": ["Frequency/GHz", "(b) TM polarization mode"], "titleX": 203}},
    "y": {"field": "t", "type": "quantitative", "scale": {"domain": [-30, 0], "nice": false},
      "axis": {"values": [-30,-25,-20,-15,-10,-5,0], "format": "d", "title": "Transmission coefficient/dB", "titleY": 159}},
    "color": {"field": "a", "type": "nominal", "scale": {"domain": ["0°","15°","30°","45°"], "range": ["#1b1b1b","#e02a2a","#3b5ba8","#a545b5"]},
      "legend": {"legendX": 66, "legendY": 186}}
  }
}
]
}
